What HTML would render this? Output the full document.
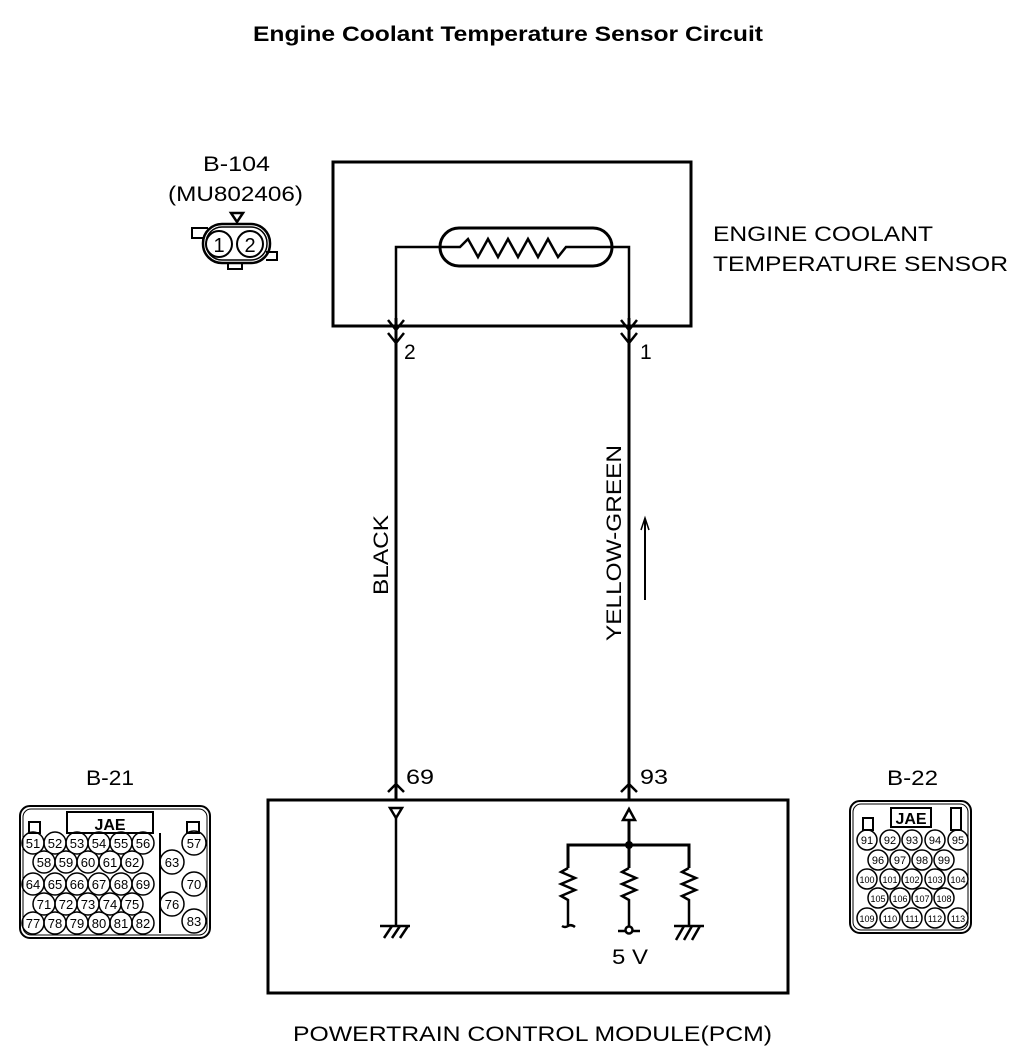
<!DOCTYPE html>
<html><head><meta charset="utf-8"><style>
html,body{margin:0;padding:0;background:#fff;width:1024px;height:1060px;overflow:hidden}
svg{display:block}
text{font-family:"Liberation Sans",sans-serif;fill:#000}
</style></head><body>
<svg width="1024" height="1060" viewBox="0 0 1024 1060" xmlns="http://www.w3.org/2000/svg">
<g fill="none" stroke="#000" stroke-width="3">
<text x="253" y="41" font-size="21" font-weight="bold" textLength="510" lengthAdjust="spacingAndGlyphs" stroke="none">Engine Coolant Temperature Sensor Circuit</text>
<rect x="333" y="162" width="358" height="164"/>
<rect x="440" y="228" width="172" height="38" rx="19"/>
<path d="M396 318 V247 H460 L468 239 L478 257 L488 239 L498 257 L508 239 L518 257 L528 239 L538 257 L548 239 L558 257 L566 247 H629 V318" stroke-width="2.5"/>
<path d="M396 318 V800 M629 318 V800"/>
<path d="M388 320 L396 330 L404 320 M388 333 L396 343 L404 333 M621 320 L629 330 L637 320 M621 333 L629 343 L637 333" stroke-width="2.5"/>
<path d="M388 792 L396 784 L404 792 M621 792 L629 784 L637 792" stroke-width="2.5"/>
<path d="M645 600 V520" stroke-width="2"/>
<path d="M641 530 L645 518 L649 530" stroke-width="1.5"/>
<rect x="268" y="800" width="520" height="193"/>
<path d="M390 808 H402 L396 818 Z" stroke-width="2.5"/>
<path d="M396 818 V925 M380 926 H410 M384 938 L392 926 M392 938 L400 926 M400 938 L408 926" stroke-width="2.5"/>
<path d="M623 820 H635 L629 809 Z" stroke-width="2.5"/>
<path d="M629 820 V845 M568 868 V845 H689 V868 M629 845 V868" />
<path d="M568 868 L561 872 L575 878 L561 884 L575 890 L561 896 L568 900 V926 M562 926 Q565 928 568 926 Q571 924 575 927" stroke-width="2.5"/>
<path d="M629 868 L622 872 L636 878 L622 884 L636 890 L622 896 L629 900 V930 M618 931 H640" stroke-width="2.5"/>
<circle cx="629" cy="930" r="3.5" fill="#fff" stroke-width="2.5"/>
<path d="M689 868 L682 872 L696 878 L682 884 L696 890 L682 896 L689 900 V926 M674 926 H704 M676 940 L684 926 M684 940 L692 926 M692 940 L700 926" stroke-width="2.5"/>
<circle cx="629" cy="845" r="4" fill="#000" stroke="none"/>
<path d="M231 213 H243 L237 222 Z" stroke-width="2.5"/>
<rect x="203" y="224" width="67" height="39" rx="19" stroke-width="2.5"/>
<rect x="206" y="227" width="61" height="33" rx="16" stroke-width="1.5"/>
<circle cx="219" cy="244" r="13" stroke-width="2"/>
<circle cx="250" cy="244" r="13" stroke-width="2"/>
<path d="M204 238 H192 V228 H208 M266 252 H277 V260 H266 M228 263 V269 H242 V263" stroke-width="2"/>
</g>
<g font-size="21" lengthAdjust="spacingAndGlyphs">
<text x="203" y="171" textLength="67" lengthAdjust="spacingAndGlyphs">B-104</text>
<text x="168" y="201" textLength="135" lengthAdjust="spacingAndGlyphs">(MU802406)</text>
<text x="219" y="252" text-anchor="middle" font-size="20">1</text>
<text x="250" y="252" text-anchor="middle" font-size="20">2</text>
<text x="713" y="241" textLength="220" lengthAdjust="spacingAndGlyphs">ENGINE COOLANT</text>
<text x="713" y="271" textLength="295" lengthAdjust="spacingAndGlyphs">TEMPERATURE SENSOR</text>
<text x="404" y="359">2</text>
<text x="640" y="359">1</text>
<text transform="translate(388,555) rotate(-90)" text-anchor="middle" textLength="80" lengthAdjust="spacingAndGlyphs">BLACK</text>
<text transform="translate(621,543) rotate(-90)" text-anchor="middle" textLength="196" lengthAdjust="spacingAndGlyphs">YELLOW-GREEN</text>
<text x="406" y="784" textLength="28" lengthAdjust="spacingAndGlyphs">69</text>
<text x="640" y="784" textLength="28" lengthAdjust="spacingAndGlyphs">93</text>
<text x="86" y="785" textLength="48" lengthAdjust="spacingAndGlyphs">B-21</text>
<text x="887" y="785" textLength="51" lengthAdjust="spacingAndGlyphs">B-22</text>
<text x="612" y="964" textLength="36" lengthAdjust="spacingAndGlyphs">5 V</text>
<text x="293" y="1041" textLength="479" lengthAdjust="spacingAndGlyphs">POWERTRAIN CONTROL MODULE(PCM)</text>
</g>
<g fill="none" stroke="#000" stroke-width="2">
<rect x="20" y="806" width="190" height="132" rx="10"/>
<rect x="23" y="809" width="184" height="126" rx="8" stroke-width="1"/>
<rect x="67" y="812" width="86" height="21"/>
<rect x="29" y="822" width="11" height="11"/>
<rect x="187" y="822" width="12" height="11"/>
<path d="M160 833 V933"/>
</g>
<g font-size="13" text-anchor="middle" stroke="#000" stroke-width="1.5">
<text x="110" y="830" font-weight="bold" font-size="16" stroke="none">JAE</text>
<g fill="none">
<circle cx="33" cy="843" r="11"/><circle cx="55" cy="843" r="11"/><circle cx="77" cy="843" r="11"/><circle cx="99" cy="843" r="11"/><circle cx="121" cy="843" r="11"/><circle cx="143" cy="843" r="11"/>
<circle cx="44" cy="862" r="11"/><circle cx="66" cy="862" r="11"/><circle cx="88" cy="862" r="11"/><circle cx="110" cy="862" r="11"/><circle cx="132" cy="862" r="11"/>
<circle cx="33" cy="884" r="11"/><circle cx="55" cy="884" r="11"/><circle cx="77" cy="884" r="11"/><circle cx="99" cy="884" r="11"/><circle cx="121" cy="884" r="11"/><circle cx="143" cy="884" r="11"/>
<circle cx="44" cy="904" r="11"/><circle cx="66" cy="904" r="11"/><circle cx="88" cy="904" r="11"/><circle cx="110" cy="904" r="11"/><circle cx="132" cy="904" r="11"/>
<circle cx="33" cy="923" r="11"/><circle cx="55" cy="923" r="11"/><circle cx="77" cy="923" r="11"/><circle cx="99" cy="923" r="11"/><circle cx="121" cy="923" r="11"/><circle cx="143" cy="923" r="11"/>
<circle cx="194" cy="843" r="12"/><circle cx="172" cy="862" r="12"/><circle cx="194" cy="884" r="12"/><circle cx="172" cy="904" r="12"/><circle cx="194" cy="921" r="12"/>
</g>
<g stroke="none">
<text x="33" y="848">51</text><text x="55" y="848">52</text><text x="77" y="848">53</text><text x="99" y="848">54</text><text x="121" y="848">55</text><text x="143" y="848">56</text>
<text x="44" y="867">58</text><text x="66" y="867">59</text><text x="88" y="867">60</text><text x="110" y="867">61</text><text x="132" y="867">62</text>
<text x="33" y="889">64</text><text x="55" y="889">65</text><text x="77" y="889">66</text><text x="99" y="889">67</text><text x="121" y="889">68</text><text x="143" y="889">69</text>
<text x="44" y="909">71</text><text x="66" y="909">72</text><text x="88" y="909">73</text><text x="110" y="909">74</text><text x="132" y="909">75</text>
<text x="33" y="928">77</text><text x="55" y="928">78</text><text x="77" y="928">79</text><text x="99" y="928">80</text><text x="121" y="928">81</text><text x="143" y="928">82</text>
<text x="194" y="848">57</text><text x="172" y="867">63</text><text x="194" y="889">70</text><text x="172" y="909">76</text><text x="194" y="926">83</text>
</g>
</g>
<g fill="none" stroke="#000" stroke-width="2">
<rect x="850" y="801" width="121" height="132" rx="10"/>
<rect x="853" y="804" width="115" height="126" rx="8" stroke-width="1"/>
<rect x="891" y="808" width="40" height="19"/>
<rect x="863" y="818" width="10" height="12"/>
<rect x="951" y="808" width="10" height="22"/>
</g>
<g font-size="11" text-anchor="middle" stroke="#000" stroke-width="1.5">
<text x="911" y="824" font-weight="bold" font-size="16" stroke="none">JAE</text>
<g fill="none">
<circle cx="867" cy="840" r="10"/><circle cx="890" cy="840" r="10"/><circle cx="912" cy="840" r="10"/><circle cx="935" cy="840" r="10"/><circle cx="958" cy="840" r="10"/>
<circle cx="878" cy="860" r="10"/><circle cx="900" cy="860" r="10"/><circle cx="922" cy="860" r="10"/><circle cx="944" cy="860" r="10"/>
<circle cx="867" cy="879" r="10"/><circle cx="890" cy="879" r="10"/><circle cx="912" cy="879" r="10"/><circle cx="935" cy="879" r="10"/><circle cx="958" cy="879" r="10"/>
<circle cx="878" cy="898" r="10"/><circle cx="900" cy="898" r="10"/><circle cx="922" cy="898" r="10"/><circle cx="944" cy="898" r="10"/>
<circle cx="867" cy="918" r="10"/><circle cx="890" cy="918" r="10"/><circle cx="912" cy="918" r="10"/><circle cx="935" cy="918" r="10"/><circle cx="958" cy="918" r="10"/>
</g>
<g stroke="none">
<text x="867" y="844">91</text><text x="890" y="844">92</text><text x="912" y="844">93</text><text x="935" y="844">94</text><text x="958" y="844">95</text>
<text x="878" y="864">96</text><text x="900" y="864">97</text><text x="922" y="864">98</text><text x="944" y="864">99</text>
<text x="867" y="883" font-size="9">100</text><text x="890" y="883" font-size="9">101</text><text x="912" y="883" font-size="9">102</text><text x="935" y="883" font-size="9">103</text><text x="958" y="883" font-size="9">104</text>
<text x="878" y="902" font-size="9">105</text><text x="900" y="902" font-size="9">106</text><text x="922" y="902" font-size="9">107</text><text x="944" y="902" font-size="9">108</text>
<text x="867" y="922" font-size="9">109</text><text x="890" y="922" font-size="9">110</text><text x="912" y="922" font-size="9">111</text><text x="935" y="922" font-size="9">112</text><text x="958" y="922" font-size="9">113</text>
</g>
</g>
</svg>
</body></html>
